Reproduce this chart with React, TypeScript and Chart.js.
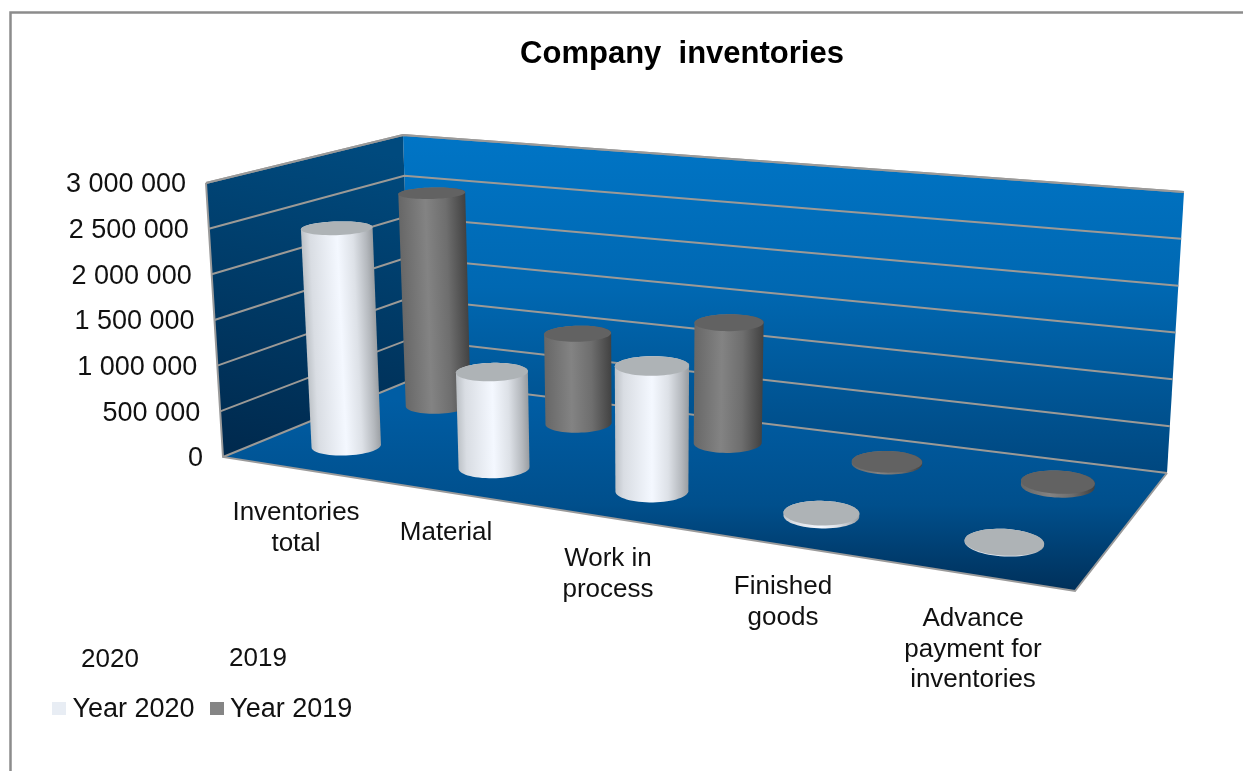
import React, { useEffect, useRef } from "react";
import { Chart, registerables, BarController } from "chart.js";

const categories = ["Inventories total", "Material", "Work in process", "Finished goods", "Advance payment for inventories"];
const categoryLines = [["Inventories", "total"], ["Material"], ["Work in", "process"], ["Finished", "goods"], ["Advance", "payment for", "inventories"]];
const year2020 = [2415000, 1032000, 1312000, 30000, 8000];
const year2019 = [2490000, 1025000, 1335000, 20000, 40000];
const seriesNames = ["Year 2020", "Year 2019"];
const seriesShort = ["2020", "2019"];

const FONT = "'Liberation Sans', Arial, sans-serif";
const categoryLabelPos = [[296, 513], [446, 533], [608, 559], [783, 587], [973, 619]];
const shortPos = [[110, 660], [258, 659]];
const swatchX = [52, 210];
const rowDepth = [0.26, 0.77];
const RU = 0.04, RW = 0.103;
const BLEND = 0.27, VX = 650, TILT = 0.000144;
const HEIGHTS = [274, 314, 281, 245];

type P = [number, number];
const A: P = [223, 457], B: P = [1075, 591], C: P = [1167, 473], D: P = [411, 380];
const E: P = [206, 183], G: P = [1184, 192], F: P = [403, 135];

function quad(p0: P, p1: P, p2: P, p3: P) {
  const dx1 = p1[0] - p2[0], dx2 = p3[0] - p2[0], sx = p0[0] - p1[0] + p2[0] - p3[0];
  const dy1 = p1[1] - p2[1], dy2 = p3[1] - p2[1], sy = p0[1] - p1[1] + p2[1] - p3[1];
  const det = dx1 * dy2 - dx2 * dy1;
  const g = (sx * dy2 - dx2 * sy) / det, h = (dx1 * sy - sx * dy1) / det;
  const a = p1[0] - p0[0] + g * p1[0], b = p3[0] - p0[0] + h * p3[0];
  const d = p1[1] - p0[1] + g * p1[1], e = p3[1] - p0[1] + h * p3[1];
  return (u: number, w: number): P => {
    const q = g * u + h * w + 1;
    return [(a * u + b * w + p0[0]) / q, (d * u + e * w + p0[1]) / q];
  };
}
const floorQ = quad(A, B, C, D);
const bilerp = (a: number, b: number, c: number, d: number, u: number, w: number) =>
  (a + (b - a) * u) * (1 - w) + (d + (c - d) * u) * w;
function project(u: number, w: number, v: number): P {
  const p = floorQ(u, w);
  const x = p[0] * (1 - BLEND) + bilerp(A[0], B[0], C[0], D[0], u, w) * BLEND;
  const y = p[1] * (1 - BLEND) + bilerp(A[1], B[1], C[1], D[1], u, w) * BLEND;
  const h = bilerp(HEIGHTS[0], HEIGHTS[1], HEIGHTS[2], HEIGHTS[3], u, w) * v;
  return [x + (x - VX) * TILT * h, y - h];
}
const along = (a: P, b: P, v: number): P => [a[0] + (b[0] - a[0]) * v, a[1] + (b[1] - a[1]) * v];
function circle(u: number, w: number, v: number): P[] {
  const pts: P[] = [];
  for (let i = 0; i < 64; i++) {
    const t = (i / 64) * Math.PI * 2;
    pts.push(project(u + RU * Math.cos(t), w + RW * Math.sin(t), v));
  }
  return pts;
}
function hull(pts: P[]): P[] {
  const s = [...pts].sort((a, b) => a[0] - b[0] || a[1] - b[1]);
  const cross = (o: P, a: P, b: P) => (a[0] - o[0]) * (b[1] - o[1]) - (a[1] - o[1]) * (b[0] - o[0]);
  const lo: P[] = [], up: P[] = [];
  for (const p of s) {
    while (lo.length >= 2 && cross(lo[lo.length - 2], lo[lo.length - 1], p) <= 0) lo.pop();
    lo.push(p);
  }
  for (const p of s.reverse()) {
    while (up.length >= 2 && cross(up[up.length - 2], up[up.length - 1], p) <= 0) up.pop();
    up.push(p);
  }
  return lo.slice(0, -1).concat(up.slice(0, -1));
}
function poly(ctx: CanvasRenderingContext2D, pts: P[]) {
  ctx.beginPath();
  pts.forEach((p, i) => (i ? ctx.lineTo(p[0], p[1]) : ctx.moveTo(p[0], p[1])));
  ctx.closePath();
}
const bodyStops = [
  [[0, "#bcc1c6"], [0.12, "#d9dde3"], [0.5, "#f4f8ff"], [0.72, "#dde1e7"], [0.9, "#b4b8bd"], [1, "#979b9f"]],
  [[0, "#676767"], [0.4, "#838383"], [0.7, "#6e6e6e"], [0.9, "#505050"], [1, "#414141"]],
] as [number, string][][];
const topColor = ["#aeb3b6", "#626262"];

class CylinderController extends (BarController as any) {
  static id = "cylinder";
  static defaults = BarController.defaults;
  static overrides = BarController.overrides;
  draw() {
    const chart = (this as any).chart;
    const ctx: CanvasRenderingContext2D = chart.ctx;
    const area = chart.chartArea;
    const index = (this as any).index;
    const meta = (this as any)._cachedMeta;
    const w = rowDepth[index];
    for (const el of meta.data) {
      const u = (el.x - area.left) / (area.right - area.left);
      const span = area.bottom - area.top;
      const vTop = (area.bottom - el.y) / span, vBase = (area.bottom - el.base) / span;
      const topC = circle(u, w, vTop), botC = circle(u, w, vBase);
      const xs = topC.map((p) => p[0]);
      const half = (Math.max(...xs) - Math.min(...xs)) / 2;
      const c0 = project(u, w, vBase), c1 = project(u, w, vTop);
      let ax = c1[0] - c0[0], ay = c1[1] - c0[1];
      const len = Math.hypot(ax, ay);
      if (len < 2) { ax = 0; ay = -1; } else { ax /= len; ay /= len; }
      const mx = (c0[0] + c1[0]) / 2, my = (c0[1] + c1[1]) / 2;
      const g = ctx.createLinearGradient(mx + ay * half, my - ax * half, mx - ay * half, my + ax * half);
      bodyStops[index].forEach(([o, c]) => g.addColorStop(o, c));
      ctx.save();
      ctx.fillStyle = g;
      poly(ctx, hull(topC.concat(botC)));
      ctx.fill();
      ctx.fillStyle = topColor[index];
      poly(ctx, topC);
      ctx.fill();
      ctx.restore();
    }
  }
}

Chart.register(...registerables, CylinderController as any);

const scenePlugin = {
  id: "scene",
  afterLayout(chart: any) {
    const t = chart.titleBlock;
    if (t) {
      const h = t.height;
      t.left = 682 - 400; t.right = 682 + 400; t.top = 54 - h / 2; t.bottom = 54 + h / 2;
    }
    const l = chart.legend;
    if (l) {
      l.left = 37; l.right = 500; l.top = 710 - 13.5 - 22;
    }
  },
  beforeDatasetsDraw(chart: any) {
    const ctx: CanvasRenderingContext2D = chart.ctx;
    ctx.save();
    ctx.strokeStyle = "#8c8c8c";
    ctx.lineWidth = 2.5;
    ctx.beginPath();
    ctx.moveTo(10.5, 771); ctx.lineTo(10.5, 12.5); ctx.lineTo(1243, 12.5);
    ctx.stroke();
    let g = ctx.createLinearGradient(0, 135, 0, 473);
    g.addColorStop(0, "#0075c6"); g.addColorStop(0.45, "#0068b2"); g.addColorStop(1, "#00477f");
    ctx.fillStyle = g; poly(ctx, [D, C, G, F]); ctx.fill();
    g = ctx.createLinearGradient(300, 135, 230, 457);
    g.addColorStop(0, "#004a7e"); g.addColorStop(1, "#00294d");
    ctx.fillStyle = g; poly(ctx, [A, D, F, E]); ctx.fill();
    g = ctx.createLinearGradient(0, 400, 0, 591);
    g.addColorStop(0, "#005da4"); g.addColorStop(0.55, "#004f8c"); g.addColorStop(1, "#00305a");
    ctx.fillStyle = g; poly(ctx, [A, B, C, D]); ctx.fill();
    const y = chart.scales.y;
    ctx.strokeStyle = "#9c9a96";
    ctx.lineWidth = 2;
    y.ticks.forEach((tk: any) => {
      const v = (chart.chartArea.bottom - y.getPixelForValue(tk.value)) / (chart.chartArea.bottom - chart.chartArea.top);
      const a = along(A, E, v), b = along(D, F, v), c = along(C, G, v);
      ctx.beginPath();
      ctx.moveTo(a[0], a[1]); ctx.lineTo(b[0], b[1]); ctx.lineTo(c[0], c[1]);
      ctx.stroke();
    });
    ctx.strokeStyle = "#9a9a9a";
    ctx.lineWidth = 2;
    ctx.beginPath();
    ctx.moveTo(E[0], E[1]); ctx.lineTo(F[0], F[1]); ctx.lineTo(G[0], G[1]);
    ctx.moveTo(E[0], E[1]); ctx.lineTo(A[0], A[1]); ctx.lineTo(B[0], B[1]); ctx.lineTo(C[0], C[1]);
    ctx.stroke();
    ctx.restore();
  },
  afterDraw(chart: any) {
    const ctx: CanvasRenderingContext2D = chart.ctx;
    ctx.save();
    ctx.fillStyle = "#111";
    ctx.textBaseline = "middle";
    ctx.font = `27px ${FONT}`;
    const y = chart.scales.y;
    ctx.textAlign = "right";
    y.ticks.forEach((tk: any) => {
      const v = (chart.chartArea.bottom - y.getPixelForValue(tk.value)) / (chart.chartArea.bottom - chart.chartArea.top);
      const p = along(A, E, v);
      ctx.fillText(String(tk.label), p[0] - 20, p[1] + 2);
    });
    ctx.font = `26px ${FONT}`;
    ctx.textAlign = "center";
    categoryLines.forEach((lines, i) => {
      lines.forEach((s, k) => ctx.fillText(s, categoryLabelPos[i][0], categoryLabelPos[i][1] + k * 30.5));
    });
    seriesShort.forEach((s, i) => ctx.fillText(s, shortPos[i][0], shortPos[i][1]));
    chart.legend.legendItems.forEach((it: any, i: number) => {
      ctx.fillStyle = it.fillStyle;
      ctx.fillRect(swatchX[i], 702, 14, 13);
    });
    ctx.restore();
  },
};

export default function App() {
  const ref = useRef<HTMLCanvasElement>(null);
  useEffect(() => {
    const chart = new Chart(ref.current as HTMLCanvasElement, {
      type: "cylinder" as any,
      data: {
        labels: categories,
        datasets: [
          { label: seriesNames[0], data: year2020, backgroundColor: "#e8edf4", clip: false },
          { label: seriesNames[1], data: year2019, backgroundColor: "#858585", clip: false },
        ],
      },
      options: {
        responsive: false,
        animation: false,
        grouped: false,
        layout: { padding: { left: 223, right: 168, top: 10, bottom: 10 } },
        scales: {
          x: { display: false },
          y: {
            display: false,
            min: 0,
            max: 3000000,
            ticks: {
              stepSize: 500000,
              callback: (v: any) => String(v).replace(/\B(?=(\d{3})+$)/g, " "),
            },
          },
        },
        plugins: {
          title: {
            display: true,
            text: "Company  inventories",
            color: "#000",
            font: { family: FONT, size: 31, weight: "bold" },
            padding: 0,
          },
          legend: {
            display: true,
            position: "bottom",
            align: "start",
            labels: {
              color: "#111",
              font: { family: FONT, size: 27 },
              boxWidth: 0,
              boxHeight: 0,
              padding: 22,
            },
          },
          tooltip: { enabled: false },
        },
      } as any,
      plugins: [scenePlugin],
    });
    return () => chart.destroy();
  }, []);
  return (
    <div style={{ position: "fixed", left: 0, top: 0, width: 1243, height: 771, background: "#fff" }}>
      <canvas ref={ref} width={1243} height={771} style={{ display: "block" }} />
    </div>
  );
}
